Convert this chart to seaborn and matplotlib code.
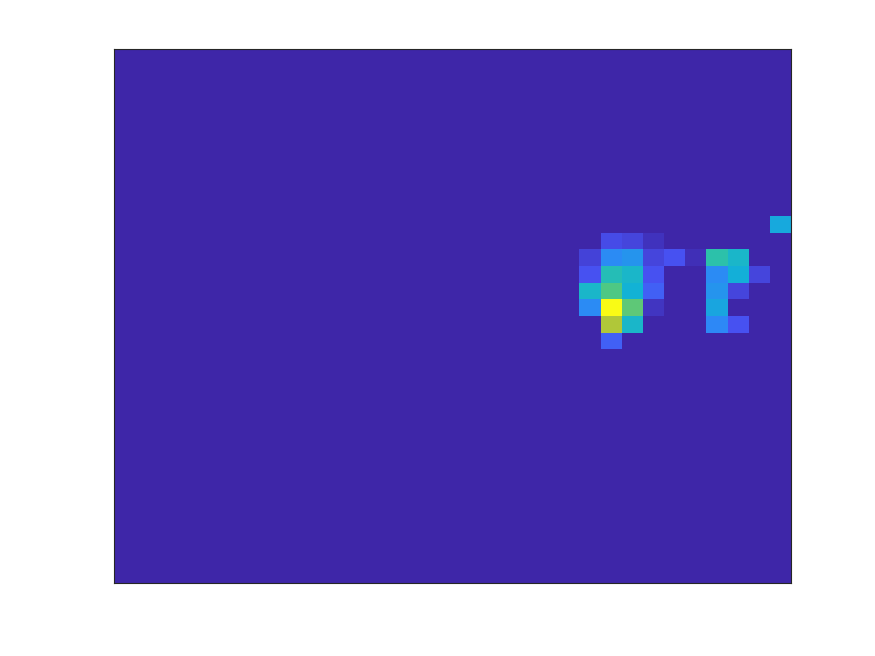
import numpy as np
import matplotlib
matplotlib.use("Agg")
import matplotlib.pyplot as plt
from matplotlib.colors import LinearSegmentedColormap
import seaborn as sns

# grid size and the non-zero cells (row from top, column from left)
n_rows, n_cols = 32, 32
cell_rows = [10, 11, 11, 11, 12, 12, 12, 12, 12, 12, 12, 12,
             13, 13, 13, 13, 13, 13, 13, 14, 14, 14, 14, 14, 14,
             15, 15, 15, 15, 15, 16, 16, 16, 16, 17]
cell_cols = [31, 23, 24, 25, 22, 23, 24, 25, 26, 27, 28, 29,
             22, 23, 24, 25, 28, 29, 30, 22, 23, 24, 25, 28, 29,
             22, 23, 24, 25, 28, 23, 24, 28, 29, 23]
cell_vals = [0.40, 0.12, 0.10, 0.04, 0.09, 0.30, 0.33, 0.10, 0.14, 0.03, 0.53, 0.46,
             0.14, 0.50, 0.46, 0.14, 0.30, 0.42, 0.10, 0.46, 0.60, 0.43, 0.18, 0.33, 0.10,
             0.30, 1.00, 0.62, 0.05, 0.39, 0.72, 0.46, 0.29, 0.14, 0.18]

grid = np.zeros((n_rows, n_cols))
grid[cell_rows, cell_cols] = cell_vals

# MATLAB parula, 8 anchor colours
parula = LinearSegmentedColormap.from_list("parula", [
    (0.2422, 0.1504, 0.6603), (0.2810, 0.3228, 0.9579),
    (0.1786, 0.5289, 0.9682), (0.0689, 0.6948, 0.8394),
    (0.2161, 0.7843, 0.5923), (0.6720, 0.7793, 0.2227),
    (0.9970, 0.7659, 0.2199), (0.9769, 0.9839, 0.0805)])

fig = plt.figure(figsize=(8.75, 6.56), dpi=100)
ax = fig.add_axes([114 / 875, 1 - 583 / 656, 677 / 875, 534 / 656])
sns.heatmap(grid, cmap=parula, vmin=0, vmax=1, cbar=False,
            xticklabels=False, yticklabels=False, ax=ax)
ax.set_aspect("auto")
for s in ax.spines.values():
    s.set_visible(True)
    s.set_color("#262626")
    s.set_linewidth(0.8)

fig.savefig("out.png", dpi=100)
